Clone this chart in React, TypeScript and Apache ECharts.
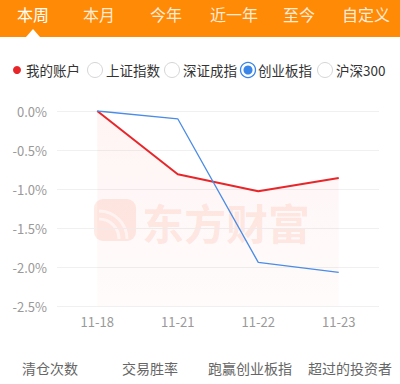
import React, { useEffect, useRef } from "react";
import * as echarts from "echarts";

const categories = ["11-18", "11-21", "11-22", "11-23"];
const accountValues = [0, -0.81, -1.03, -0.86];
const indexValues = [0, -0.1, -1.94, -2.07];
const yTicks = [0, -0.5, -1.0, -1.5, -2.0, -2.5];
const tabs = ["本周", "本月", "今年", "近一年", "至今", "自定义"];
const tabX = [33, 99, 166, 234, 299, 366];
const legendItems = ["我的账户", "上证指数", "深证成指", "创业板指", "沪深300"];
const bottomLabels = ["清仓次数", "交易胜率", "跑赢创业板指", "超过的投资者"];
const bottomX = [50, 150, 250, 350];

export default function App() {
  const ref = useRef<HTMLDivElement>(null);
  useEffect(() => {
    const chart = echarts.init(ref.current!, null, { renderer: "svg" });
    const font = "'Noto Sans CJK SC', 'Noto Sans', sans-serif";
    const graphics: any[] = [];
    // header bar
    graphics.push({ type: "rect", shape: { x: 0, y: 0, width: 400, height: 37 }, style: { fill: "#FF8A05" }, z: 1 });
    graphics.push({ type: "polygon", shape: { points: [[26, 37], [33, 29], [40, 37]] }, style: { fill: "#ffffff" }, z: 2 });
    tabs.forEach((t, i) => {
      graphics.push({
        type: "text", x: tabX[i], y: 14, z: 2,
        style: { text: t, fill: i === 0 ? "#ffffff" : "rgba(255,255,255,0.85)", font: `16px ${font}`, align: "center", verticalAlign: "middle" },
      });
    });
    // legend
    graphics.push({ type: "circle", shape: { cx: 17, cy: 70, r: 4 }, style: { fill: "#E8262A" }, z: 2 });
    const legendTextX = [26, 106, 183, 258, 336];
    const radioX = [0, 95, 172, 248, 325];
    legendItems.forEach((t, i) => {
      if (i > 0) {
        if (i === 3) {
          graphics.push({ type: "circle", shape: { cx: radioX[i], cy: 70, r: 7.5 }, style: { fill: "#fff", stroke: "#3A85E8", lineWidth: 1.3 }, z: 2 });
          graphics.push({ type: "circle", shape: { cx: radioX[i], cy: 70, r: 4.5 }, style: { fill: "#3A85E8" }, z: 2 });
        } else {
          graphics.push({ type: "circle", shape: { cx: radioX[i], cy: 70, r: 7.5 }, style: { fill: "#fff", stroke: "#d6d6d6", lineWidth: 1 }, z: 2 });
        }
      }
      graphics.push({
        type: "text", x: legendTextX[i], y: 70, z: 2,
        style: { text: t, fill: "#333333", font: `13.5px ${font}`, align: "left", verticalAlign: "middle" },
      });
    });
    // watermark
    graphics.push({ type: "rect", shape: { x: 94, y: 199, width: 42, height: 42, r: 9 }, style: { fill: "rgba(250,110,70,0.14)" }, z: 0 });
    graphics.push({ type: "arc", shape: { cx: 99, cy: 239, r: 28, startAngle: -Math.PI / 2, endAngle: 0 }, style: { stroke: "rgba(255,255,255,0.7)", lineWidth: 3, fill: "none" }, z: 0 });
    graphics.push({ type: "arc", shape: { cx: 99, cy: 239, r: 20, startAngle: -Math.PI / 2, endAngle: 0 }, style: { stroke: "rgba(255,255,255,0.7)", lineWidth: 3, fill: "none" }, z: 0 });
    graphics.push({
      type: "text", x: 226, y: 221, z: 0,
      style: { text: "东方财富", fill: "rgba(250,110,70,0.14)", font: `bold 42px ${font}`, align: "center", verticalAlign: "middle" },
    });
    // bottom labels
    bottomLabels.forEach((t, i) => {
      graphics.push({
        type: "text", x: bottomX[i], y: 368, z: 2,
        style: { text: t, fill: "#666666", font: `14px ${font}`, align: "center", verticalAlign: "middle" },
      });
    });

    chart.setOption({
      animation: false,
      backgroundColor: "#ffffff",
      grid: { left: 57, right: 21, top: 111, bottom: 78 },
      xAxis: {
        type: "category",
        data: categories,
        boundaryGap: true,
        axisLine: { show: false },
        axisTick: { show: false },
        axisLabel: { color: "#999999", fontSize: 13, margin: 9, fontFamily: font },
      },
      yAxis: {
        type: "value",
        min: yTicks[yTicks.length - 1],
        max: yTicks[0],
        interval: 0.5,
        axisLine: { show: false },
        axisTick: { show: false },
        axisLabel: { color: "#999999", fontSize: 13, margin: 10, fontFamily: font, formatter: (v: number) => v.toFixed(1) + "%" },
        splitLine: { lineStyle: { color: "#f0f0f0", width: 1 } },
      },
      graphic: graphics,
      series: [
        {
          type: "line",
          data: accountValues,
          symbol: "none",
          z: 3,
          lineStyle: { color: "#E8262A", width: 2 },
          areaStyle: {
            origin: "start",
            color: new echarts.graphic.LinearGradient(0, 0, 0, 1, [
              { offset: 0, color: "rgba(255,80,80,0.09)" },
              { offset: 1, color: "rgba(255,80,80,0.03)" },
            ]),
          },
        },
        {
          type: "line",
          data: indexValues,
          symbol: "none",
          z: 4,
          lineStyle: { color: "#4A8CE6", width: 1.3 },
        },
      ],
    });
    return () => chart.dispose();
  }, []);
  return <div ref={ref} style={{ position: "fixed", left: 0, top: 0, width: 400, height: 384 }} />;
}
